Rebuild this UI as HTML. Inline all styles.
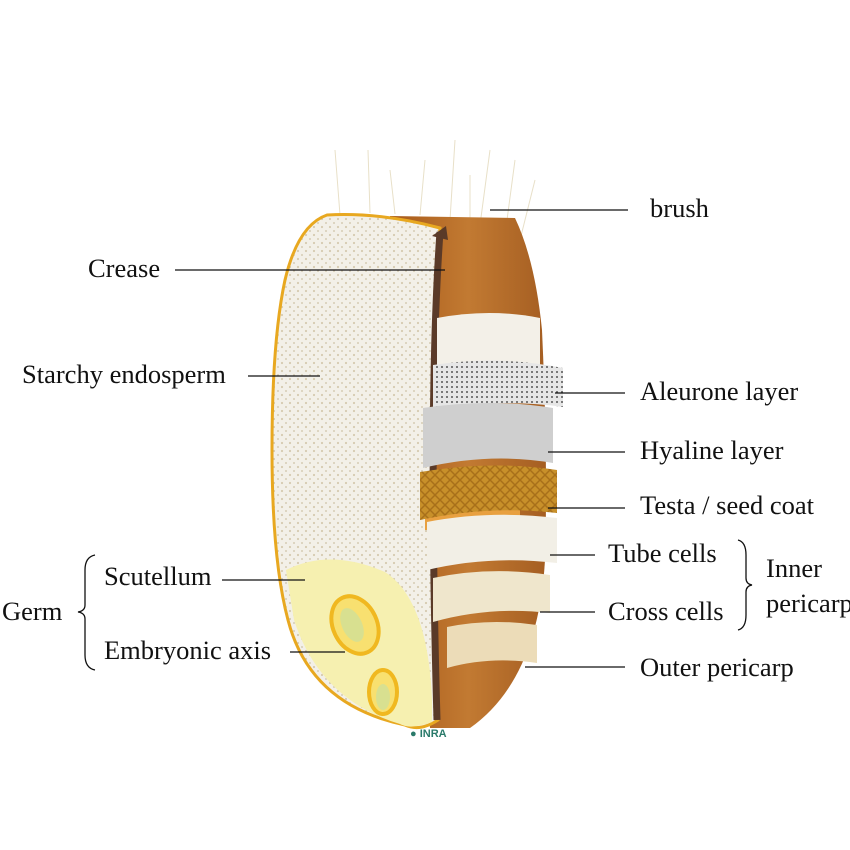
<!DOCTYPE html>
<html><head><meta charset="utf-8"><style>
html,body{margin:0;padding:0;background:#fff;width:850px;height:850px;overflow:hidden}
svg{display:block}
text{font-family:"Liberation Serif",serif;font-size:26.5px;fill:#111}
</style></head><body>
<svg width="850" height="850" viewBox="0 0 850 850">
<defs>
<pattern id="dots" width="8" height="8" patternUnits="userSpaceOnUse"><rect width="8" height="8" fill="#f3f0e8"/><circle cx="2" cy="3" r="1.1" fill="#d6cab0"/><circle cx="6" cy="7" r="0.9" fill="#cdc2a6"/></pattern>
<pattern id="al" width="5" height="5" patternUnits="userSpaceOnUse"><rect width="5" height="5" fill="#e6e6e6"/><circle cx="2" cy="2" r="1" fill="#555"/></pattern>
<pattern id="te" width="10" height="10" patternUnits="userSpaceOnUse"><rect width="10" height="10" fill="#c8902a"/><path d="M0 0L10 10M10 0L0 10" stroke="#a8701a" stroke-width="1.5"/></pattern>
<linearGradient id="br" x1="0" x2="1"><stop offset="0" stop-color="#a85a1a"/><stop offset="0.5" stop-color="#c27a32"/><stop offset="1" stop-color="#a55e22"/></linearGradient>
</defs>
<g stroke="#e8e0c8" stroke-width="1">
<path d="M340 215L335 150M370 213L368 150M420 215L425 160M450 220L455 140M480 225L490 150M505 235L515 160M520 240L535 180M470 222L470 175M395 214L390 170"/>
</g>
<path d="M390 216 L515 218 Q535 260 542 330 Q548 460 545 560 Q538 680 470 728 L430 728 Z" fill="url(#br)"/>
<path d="M327 215 Q380 212 440 228 Q430 400 438 720 Q420 732 405 725 Q310 705 288 620 Q272 560 272 450 Q272 340 285 280 Q298 225 327 215 Z" fill="url(#dots)" stroke="#e8a820" stroke-width="3"/>
<path d="M286 570 Q330 548 385 572 Q428 600 432 700 L432 722 Q410 730 400 724 Q320 700 294 620 Z" fill="#f6f0b0"/>
<ellipse cx="355" cy="625" rx="22" ry="30" transform="rotate(-25 355 625)" fill="#f8e070" stroke="#f0b820" stroke-width="4"/>
<ellipse cx="352" cy="625" rx="10" ry="18" transform="rotate(-25 352 625)" fill="#d8e090"/>
<ellipse cx="383" cy="692" rx="14" ry="22" fill="#f8e070" stroke="#f0b820" stroke-width="4"/>
<ellipse cx="383" cy="697" rx="7" ry="13" fill="#d8e090"/>
<path d="M440 232 Q428 400 437 720" stroke="#5a3a28" stroke-width="7" fill="none"/>
<path d="M432 236 L446 226 L448 240 Z" fill="#5a3a28"/>
<path d="M437 318 Q490 308 540 318 L540 367 L437 367 Z" fill="#f3f0e8"/>
<path d="M433 365 Q500 355 563 368 L563 407 Q500 398 433 410 Z" fill="url(#al)"/>
<path d="M423 408 Q490 398 553 408 L553 463 Q490 452 423 468 Z" fill="#cfcfcf"/>
<path d="M425 480 L520 480 L520 530 L425 530 Z" fill="#e8a040"/>
<path d="M420 472 Q490 460 557 470 L557 513 Q490 505 420 520 Z" fill="url(#te)"/>
<path d="M427 522 Q490 510 557 518 L557 563 Q490 555 427 570 Z" fill="#f2efe6"/>
<path d="M433 578 Q490 566 550 575 L550 613 Q490 606 433 622 Z" fill="#efe6cc"/>
<path d="M447 627 Q490 618 537 625 L537 663 Q490 656 447 668 Z" fill="#ecdcb8"/>
<text x="410" y="737" style="font-size:11px;font-family:'Liberation Sans',sans-serif;fill:#2a7a6a;font-weight:bold">● INRA</text>
<g stroke="#111" stroke-width="1.3">
<line x1="490" y1="210" x2="628" y2="210"/>
<line x1="175" y1="270" x2="445" y2="270"/>
<line x1="248" y1="376" x2="320" y2="376"/>
<line x1="555" y1="393" x2="625" y2="393"/>
<line x1="548" y1="452" x2="625" y2="452"/>
<line x1="548" y1="508" x2="625" y2="508"/>
<line x1="550" y1="555" x2="595" y2="555"/>
<line x1="540" y1="612" x2="595" y2="612"/>
<line x1="525" y1="667" x2="625" y2="667"/>
<line x1="222" y1="580" x2="305" y2="580"/>
<line x1="290" y1="652" x2="345" y2="652"/>
</g>
<g fill="none" stroke="#111" stroke-width="1.3">
<path d="M738 540 Q746 542 746 555 L746 578 Q746 584 752 585 Q746 586 746 592 L746 615 Q746 628 738 630"/>
<path d="M95 555 Q85 557 85 570 L85 605 Q85 611 78 612 Q85 613 85 619 L85 655 Q85 668 95 670"/>
</g>
<text x="650" y="217">brush</text>
<text x="88" y="277">Crease</text>
<text x="22" y="383">Starchy endosperm</text>
<text x="640" y="400">Aleurone layer</text>
<text x="640" y="459">Hyaline layer</text>
<text x="640" y="514">Testa / seed coat</text>
<text x="608" y="562">Tube cells</text>
<text x="608" y="620">Cross cells</text>
<text x="766" y="577">Inner</text>
<text x="766" y="612">pericarp</text>
<text x="640" y="676">Outer pericarp</text>
<text x="104" y="585">Scutellum</text>
<text x="2" y="620">Germ</text>
<text x="104" y="659">Embryonic axis</text>
</svg>
</body></html>
